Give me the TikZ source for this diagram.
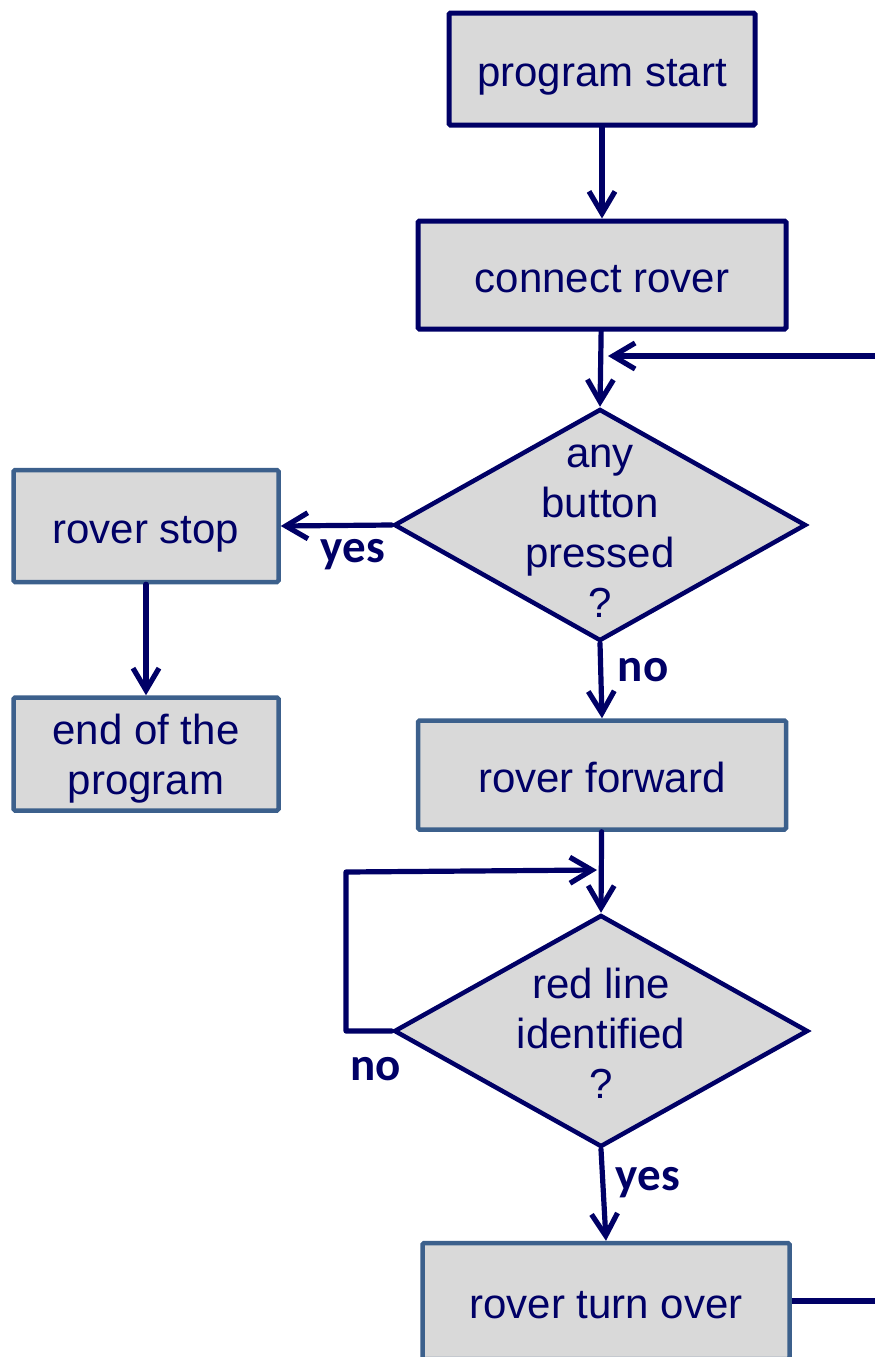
\documentclass[tikz,border=0pt]{standalone}
\usepackage{fontspec}
\setmainfont{Liberation Sans}
\newfontfamily\labelfont{Carlito}
\usetikzlibrary{shapes, positioning, arrows.meta}
\definecolor{navy}{RGB}{0,0,102}
\definecolor{steel}{RGB}{60,96,140}
\definecolor{boxgrey}{RGB}{217,217,217}
\tikzstyle{stepbox}=[shape=rectangle, draw=steel, fill=boxgrey, line width=4.5pt, rounded corners=1.5pt, text=navy, font=\fontsize{42}{50}\selectfont, align=center, inner sep=0pt, text height=35pt, text depth=0pt]
\tikzstyle{decision}=[shape=diamond, draw=navy, fill=boxgrey, line width=4.5pt, inner sep=0pt, minimum width=412pt, minimum height=232pt]
\tikzstyle{dtext}=[text=navy, font=\fontsize{42}{50}\selectfont, align=center, inner sep=0pt]
\tikzstyle{answer}=[text=navy, font=\labelfont\bfseries\fontsize{47}{50}\selectfont, inner sep=0pt]
\tikzstyle{flow}=[draw=navy, line width=5.2pt, line cap=round, line join=round, -{Straight Barb[length=22pt, width=26pt, line width=5.2pt]}]

\begin{document}
\begin{tikzpicture}[x=1pt, y=-1pt]
\path[use as bounding box, clip] (0,0) rectangle (875,1357);
\node[stepbox, draw=navy, line width=5pt, minimum width=306pt, minimum height=112pt] (ps) at (602,69) {program start};
\node[stepbox, draw=navy, line width=5pt, minimum width=368pt, minimum height=108pt] (cr) at (602,275) {connect rover};
\node[decision] (d1) at (600,525) {};
\node[dtext] (t1) at (600,531) {any\\button\\pressed\\?};
\node[stepbox, minimum width=265pt, minimum height=112pt] (rs) at (146,526) {rover stop};
\node[stepbox, minimum width=265pt, minimum height=113pt, text height=80pt] (ep) at (146,754) {end of the\\program};
\node[stepbox, minimum width=368pt, minimum height=109pt] (rf) at (602,775) {rover forward};
\node[decision, minimum width=414pt] (d2) at (601,1031) {};
\node[dtext] (t2) at (601,1033) {red line\\identified\\?};
\node[stepbox, minimum width=367pt, minimum height=116pt] (rt) at (606,1301) {rover turn over};
% answers
\node[answer] (y1) at (353,555) {yes};
\node[answer] (n1) at (643,670) {no};
\node[answer] (n2) at (376,1069) {no};
\node[answer] (y2) at (648,1183) {yes};
% free ends
\coordinate (fin) at (875,356);
\coordinate (fback) at (608,356);
\coordinate (fout) at (875,1301);
\coordinate (l1) at (346,1031);
\coordinate (l2) at (346,872);
\coordinate (l3) at (597,870);
\draw[flow] (ps) -- (cr);
\draw[flow] (cr) -- (d1.north);
\draw[flow] (fin) -- (fback);
\draw[flow] (d1.west) -- (rs.east);
\draw[flow] (rs) -- (ep);
\draw[flow] (d1.south) -- (rf.north);
\draw[flow] (rf) -- (d2.north);
\draw[flow] (d2.west) -- (l1) -- (l2) -- (l3);
\draw[flow] (d2.south) -- (rt.north);
\draw[draw=navy, line width=5.2pt] (rt.east) -- (fout);
\end{tikzpicture}
\end{document}
